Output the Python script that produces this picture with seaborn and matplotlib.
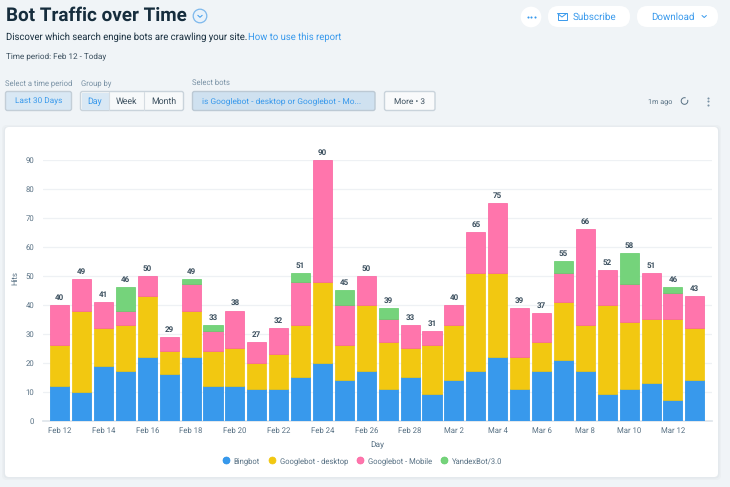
import numpy as np
import matplotlib
matplotlib.use("Agg")
import matplotlib.pyplot as plt
from matplotlib.lines import Line2D
from matplotlib.patches import FancyBboxPatch, Circle, Rectangle, Arc
import seaborn as sns

# --- datos ---
days = ["Feb 12", "Feb 13", "Feb 14", "Feb 15", "Feb 16", "Feb 17", "Feb 18", "Feb 19", "Feb 20", "Feb 21",
        "Feb 22", "Feb 23", "Feb 24", "Feb 25", "Feb 26", "Feb 27", "Feb 28", "Mar 1", "Mar 2", "Mar 3",
        "Mar 4", "Mar 5", "Mar 6", "Mar 7", "Mar 8", "Mar 9", "Mar 10", "Mar 11", "Mar 12", "Mar 13"]
bingbot = [12, 10, 19, 17, 22, 16, 22, 12, 12, 11, 11, 15, 20, 14, 17, 11, 15, 9, 14, 17, 22, 11, 17, 21, 17, 9, 11, 13, 7, 14]
desktop = [14, 28, 13, 16, 21, 8, 16, 12, 13, 9, 12, 18, 28, 12, 23, 16, 10, 17, 19, 34, 29, 11, 10, 20, 16, 31, 23, 22, 28, 18]
mobile = [14, 11, 9, 5, 7, 5, 9, 7, 13, 7, 9, 15, 42, 14, 10, 8, 8, 5, 7, 14, 24, 17, 10, 10, 33, 12, 13, 16, 9, 11]
yandex = [0, 0, 0, 8, 0, 0, 2, 2, 0, 0, 0, 3, 0, 5, 0, 4, 0, 0, 0, 0, 0, 0, 0, 4, 0, 0, 11, 0, 2, 0]
series_names = ["Bingbot", "Googlebot - desktop", "Googlebot - Mobile", "YandexBot/3.0"]
series_values = [bingbot, desktop, mobile, yandex]
series_colors = ["#3899EC", "#F2C811", "#FF75AC", "#75D37B"]
edge_colors = ["#1E8CE8", "#F0C40A", "#FA5F9E", "#60CC68"]
y_ticks = list(range(0, 100, 10))

FONT = "Roboto"
BG = "#F0F4F7"
BLUE = "#3899EC"
DARK = "#162D3D"
GREY = "#577083"

sns.set_theme(style="white")
plt.rcParams["font.family"] = [FONT, "DejaVu Sans"]
plt.rcParams["text.hinting"] = "no_hinting"

W, H = 730, 487
fig = plt.figure(figsize=(W / 100, H / 100), dpi=100, facecolor=BG)

# --- interfaz alrededor del grafico, en pixeles ---
ui = fig.add_axes([0, 0, 1, 1], zorder=0)
ui.set_xlim(0, W)
ui.set_ylim(H, 0)
ui.axis("off")


def caja(x0, y0, x1, y1, fc, ec="none", r=2, lw=1.0, z=1):
    ui.add_patch(FancyBboxPatch((x0 + r, y0 + r), x1 - x0 - 2 * r, y1 - y0 - 2 * r,
                                boxstyle=f"round,pad={r},rounding_size={r}",
                                fc=fc, ec=ec, lw=lw, zorder=z))


def texto(x, y, s, size=6.6, color=GREY, ha="left", weight="normal"):
    ui.text(x, y, s, fontsize=size, color=color, ha=ha, va="center", fontweight=weight, zorder=5)


# tarjeta blanca con sombra suave
for grow, col in [(3, "#EBEFF2"), (1.5, "#E4E9ED")]:
    caja(5 - grow, 127 - grow + 1, 718 + grow, 477 + grow, col, r=5, z=0.5)
caja(5, 127, 718, 477, "white", r=4, z=1)

# cabecera
texto(6, 15.5, "Bot Traffic over Time", size=13.6, color=DARK, weight="bold")
ui.add_patch(Circle((200, 16), 6.8, fc="#E9F2FA", ec="#7DB8EC", lw=0.9, zorder=3))
ui.plot([197.8, 200, 202.2], [15.3, 17.3, 15.3], color=BLUE, lw=0.7, zorder=4)
texto(6, 37.5, "Discover which search engine bots are crawling your site.", size=6.85, color=DARK)
texto(248, 37.5, "How to use this report", size=6.85, color=BLUE)
texto(6, 56, "Time period: Feb 12 - Today", size=5.85, color="#3B4F5E")

# filtros
texto(5, 83, "Select a time period", size=5.5, color="#7A92A5")
texto(81, 83, "Group by", size=5.5, color="#7A92A5")
texto(192, 83, "Select bots", size=5.5, color="#7A92A5")
caja(5.5, 91.5, 71.5, 110.5, "#D9E8F4", ec="#C3CED7", lw=1.0)
texto(38.5, 101.5, "Last 30 Days", size=5.95, color=BLUE, ha="center")
caja(80.5, 91.5, 183.5, 110.5, "#F7F9FA", ec="#C9D3DB", lw=1.0)
ui.add_patch(Rectangle((81.5, 92.5), 27.5, 17, fc="#D9E8F4", ec="none", zorder=2))
ui.plot([109, 109], [92, 110], color="#D5DCE2", lw=0.8, zorder=3)
ui.plot([144, 144], [92, 110], color="#D5DCE2", lw=0.8, zorder=3)
texto(95, 101.5, "Day", size=6.3, color=BLUE, ha="center")
texto(126.5, 101.5, "Week", size=6.3, color="#3B4F5E", ha="center")
texto(163.5, 101.5, "Month", size=6.3, color="#3B4F5E", ha="center")
caja(192.5, 91.5, 375, 110.5, "#CFE1F0", ec="#BCC9D4", lw=1.0)
texto(202, 101.5, "is Googlebot - desktop or Googlebot - Mo...", size=6.05, color=BLUE)
caja(384.5, 91.5, 435, 110.5, "#F9FAFB", ec="#C9D3DB", lw=1.0)
texto(410, 101.5, "More • 3", size=6, color="#3B4F5E", ha="center")

# acciones arriba a la derecha
ui.add_patch(Circle((531, 17), 10.3, fc="white", ec="none", zorder=2))
ui.plot([528.2, 531.4, 534.6], [17, 17, 17], ls="none", marker="o", ms=1.5, mew=0, color=BLUE, zorder=4)
caja(548, 6, 630, 27, "white", r=10.4, z=2)
ui.add_patch(Rectangle((557.5, 13), 9, 7, fc="none", ec=BLUE, lw=0.7, zorder=4))
ui.plot([557.5, 562, 566.5], [13.5, 17, 13.5], color=BLUE, lw=0.7, zorder=4)
texto(573, 17, "Subscribe", size=7.1, color=BLUE)
caja(637, 6, 718, 27, "white", r=10.4, z=2)
texto(651, 17, "Download", size=7, color=BLUE)
ui.plot([702, 704.2, 706.4], [15.5, 17.5, 15.5], color=BLUE, lw=0.7, zorder=4)

# estado
texto(648, 101.5, "1m ago", size=5.2, color=GREY)
ui.add_patch(Arc((684.5, 101), 6.6, 6.6, theta1=-20, theta2=290, color=GREY, lw=0.7, zorder=4))
ui.plot([707.6] * 3, [97.5, 101, 104.5], ls="none", marker="o", ms=1.5, mew=0, color="#7A92A5", zorder=4)

# --- grafico de barras apiladas ---
ax = fig.add_axes([42.7 / W, 1 - 420.5 / H, 669 / W, 260.5 / H], zorder=2)
ax.patch.set_alpha(0)

bottom = np.zeros(len(days))
for name, vals, col, ecol in zip(series_names, series_values, series_colors, edge_colors):
    sns.barplot(x=days, y=vals, bottom=bottom, color=col, saturation=1, width=0.87, edgecolor=ecol,
                linewidth=0.5, label=name, legend=False, ax=ax, zorder=3)
    bottom = bottom + np.array(vals)

# las barras vacias no deben dibujar borde
for cont in ax.containers:
    for bar in cont:
        if bar.get_height() == 0:
            bar.set_linewidth(0)

# totales sobre la ultima serie
totals = [int(v) for v in bottom]
ax.bar_label(ax.containers[-1], labels=totals, padding=2.5, fontsize=5.8, color="#3B4F5E",
             fontweight="bold", annotation_clip=False)

ax.set_xlim(-0.776, 29.77)
ax.set_ylim(0, 90)
ax.set_yticks(y_ticks)
ax.set_xticks(range(0, len(days), 2))
ax.set_xticklabels(days[::2])
ax.tick_params(axis="both", length=0, labelsize=5.6, labelcolor=GREY)
ax.tick_params(axis="x", pad=4.5)
ax.tick_params(axis="y", pad=6)
ax.grid(axis="y", color="#EEF1F4", lw=0.9, zorder=0)
ax.set_axisbelow(True)
for s in ["top", "left", "right"]:
    ax.spines[s].set_visible(False)
ax.spines["bottom"].set_color("#DFE5EB")

ax.set_xlabel("Day", fontsize=6, color=GREY)
ax.set_ylabel("Hits", fontsize=5.6, color=GREY)
ax.xaxis.set_label_coords((377 - 42.7) / 669, -(441.5 - 420.5) / 260.5)
ax.yaxis.set_label_coords((18.5 - 42.7) / 669, (420.5 - 278) / 260.5)

handles = [Line2D([], [], ls="none", marker="o", ms=5, mfc=c, mec=e, mew=0.5, label=n)
           for n, c, e in zip(series_names, series_colors, edge_colors)]
leg = ax.legend(handles=handles, ncol=4, loc="center", bbox_to_anchor=((361.5 - 42.7) / 669, -(461 - 420.5) / 260.5),
                frameon=False, fontsize=5.5, labelcolor=GREY, handletextpad=0.35, columnspacing=0.85,
                handlelength=1.4, borderpad=0, borderaxespad=0)

fig.savefig("out.png", dpi=100, facecolor=BG)
